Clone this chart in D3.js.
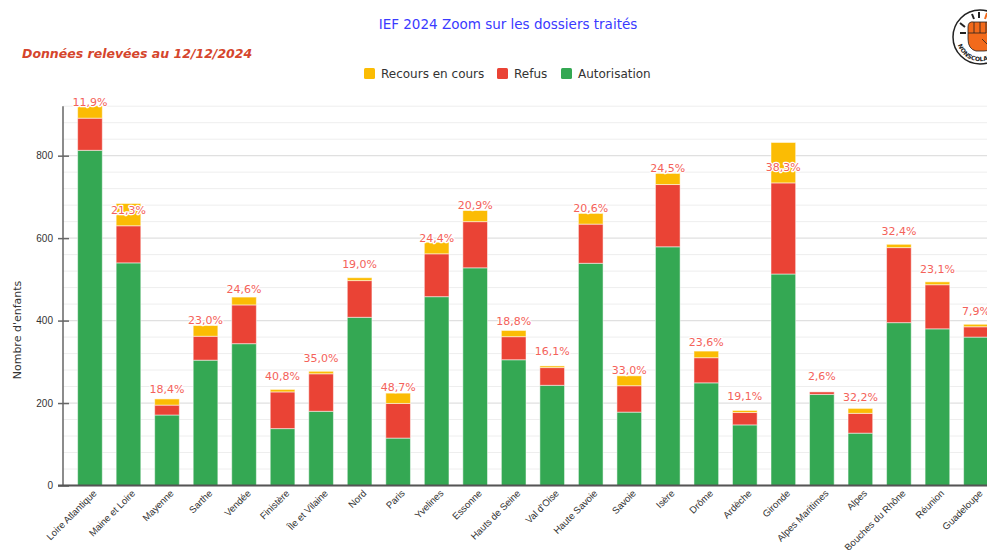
<!DOCTYPE html>
<html>
<head>
<meta charset="utf-8">
<script src="https://cdn.jsdelivr.net/npm/d3@7"></script>
<style>
  body { margin: 0; overflow: hidden; background: #fff; }
  svg { font-family: "DejaVu Sans", Verdana, sans-serif; display: block; }
</style>
</head>
<body>
<div id="chart"></div>
<script>
const WIDTH = 1000;
const HEIGHT = 550;
const COLORS = { recours: "#FBBC04", refus: "#EA4335", autorisation: "#34A853" };

const departements = ["Loire Atlantique", "Maine et Loire", "Mayenne", "Sarthe", "Vendée", "Finistère",
  "Île et Vilaine", "Nord", "Paris", "Yvelines", "Essonne", "Hauts de Seine", "Val d'Oise",
  "Haute Savoie", "Savoie", "Isère", "Drôme", "Ardèche", "Gironde", "Alpes Maritimes", "Alpes",
  "Bouches du Rhône", "Réunion", "Guadeloupe"];
const autorisation = [813, 540, 171, 304, 344, 138, 180, 408, 115, 458, 528, 305, 243, 539, 178, 579, 249, 147, 513, 221, 127, 395, 380, 360];
const refus =        [78,  90,  24,  58,  94,  89,  91,  89,  84, 104, 112,  56,  43,  95,  64, 151,  61,  30, 221,   6,  48, 182, 107,  25];
const recours =      [30,  54,  15,  26,  19,   6,   6,   7,  25,  28,  27,  15,   4,  26,  24,  27,  16,   5,  98,   0,  12,   8,   7,   6];
const pctLabels = ["11,9%", "21,3%", "18,4%", "23,0%", "24,6%", "40,8%", "35,0%", "19,0%", "48,7%", "24,4%",
  "20,9%", "18,8%", "16,1%", "20,6%", "33,0%", "24,5%", "23,6%", "19,1%", "38,3%", "2,6%", "32,2%",
  "32,4%", "23,1%", "7,9%"];
const yTicks = [0, 200, 400, 600, 800];

const svg = d3.select("#chart").append("svg").attr("width", WIDTH).attr("height", HEIGHT);

const x = d3.scaleBand().domain(departements).range([70.7, 995.2]).paddingInner(0.36).paddingOuter(0.18);
const y = d3.scaleLinear().domain([0, 920]).range([485.5, 106.2]);

// grid
svg.append("g").selectAll("line").data(d3.range(0, 921, 40)).join("line")
  .attr("x1", 63).attr("x2", WIDTH)
  .attr("y1", d => y(d)).attr("y2", d => y(d))
  .attr("stroke", d => d % 200 === 0 ? "#e0e0e0" : "#eeeeee")
  .attr("stroke-width", d => d % 200 === 0 ? 1.3 : 1);

// stacked bars
const rows = departements.map((d, i) => ({ dep: d, autorisation: autorisation[i], refus: refus[i], recours: recours[i] }));
const stack = d3.stack().keys(["autorisation", "refus", "recours"])(rows);
svg.append("g").selectAll("g").data(stack).join("g")
  .attr("fill", s => COLORS[s.key])
  .selectAll("rect").data(s => s).join("rect")
  .attr("x", d => x(d.data.dep))
  .attr("width", x.bandwidth())
  .attr("y", d => y(d[1]))
  .attr("height", d => Math.max(0, y(d[0]) - y(d[1])))
  .attr("stroke", "#fff").attr("stroke-opacity", 0.5).attr("stroke-width", 1);

// y axis
const yAxis = svg.append("g").attr("transform", "translate(63,0)")
  .call(d3.axisLeft(y).tickValues(yTicks).tickSizeInner(5).tickSizeOuter(0).tickPadding(5));
yAxis.select(".domain").attr("stroke", "#666").attr("stroke-width", 1.5).attr("d", `M0,${y(920)}V${y(0)}`);
yAxis.selectAll(".tick line").attr("x1", -5).attr("x2", 6).attr("stroke", "#666").attr("stroke-width", 1.5);
yAxis.selectAll(".tick text").attr("fill", "#333").style("font-size", "10px").attr("x", -10);

svg.append("text").attr("transform", "translate(21,330) rotate(-90)")
  .attr("text-anchor", "middle").attr("fill", "#333").style("font-size", "11px").text("Nombre d'enfants");

// x axis
const xAxis = svg.append("g").attr("transform", `translate(0,${y(0)})`)
  .call(d3.axisBottom(x).tickSize(0).tickPadding(0));
xAxis.select(".domain").attr("stroke", "#555").attr("stroke-width", 2).attr("d", `M58,0H${WIDTH}`);
xAxis.selectAll(".tick text")
  .attr("fill", "#333").style("font-size", "9.6px")
  .attr("text-anchor", "end")
  .attr("transform", "translate(5,6) rotate(-45)")
  .attr("dy", "0.35em");

// percentage labels
svg.append("g").selectAll("text").data(rows).join("text")
  .attr("x", d => x(d.dep) + x.bandwidth() / 2)
  .attr("y", d => y(d.autorisation + d.refus) - 16)
  .attr("dy", "0.35em")
  .attr("text-anchor", "middle")
  .style("font-size", "11px")
  .attr("fill", "#f4625a")
  .attr("stroke", "#fff").attr("stroke-width", 2.5).attr("stroke-linejoin", "round")
  .attr("paint-order", "stroke")
  .text((d, i) => pctLabels[i]);

// title
svg.append("text").attr("x", 508).attr("y", 29).attr("text-anchor", "middle")
  .attr("fill", "#3a3aff").style("font-size", "13.5px").text("IEF 2024 Zoom sur les dossiers traités");
svg.append("text").attr("x", 22).attr("y", 58)
  .attr("fill", "#d5452c").style("font-size", "12.5px").style("font-weight", "bold").style("font-style", "italic")
  .text("Données relevées au 12/12/2024");

// legend
const legendItems = [["Recours en cours", COLORS.recours], ["Refus", COLORS.refus], ["Autorisation", COLORS.autorisation]];
const legendX = [364, 497, 561];
const lg = svg.append("g").selectAll("g").data(legendItems).join("g")
  .attr("transform", (d, i) => `translate(${legendX[i]},68)`);
lg.append("rect").attr("width", 11).attr("height", 11).attr("rx", 1.5).attr("fill", d => d[1]);
lg.append("text").attr("x", 17).attr("y", 10).attr("fill", "#333").style("font-size", "12px").text(d => d[0]);

// logo
const logo = svg.append("g").attr("transform", "translate(980,37)");
logo.append("circle").attr("r", 27).attr("fill", "#fff").attr("stroke", "#222").attr("stroke-width", 1.5);
logo.append("path").attr("d", "M-12,-10 Q-12,-16 -6,-15 L10,-15 Q16,-15 16,-8 L16,6 Q14,14 4,14 L-4,14 Q-12,12 -12,2 Z")
  .attr("fill", "#f26a1b").attr("stroke", "#222").attr("stroke-width", 0.8);
logo.append("path").attr("d", "M-6,-15 V-4 M0,-15 V-4 M6,-15 V-4 M-12,-4 H6 M2,2 L8,8")
  .attr("stroke", "#222").attr("stroke-width", 0.8).attr("fill", "none");
logo.append("path").attr("d", "M-20,-14 L-15,-10 M-8,-23 L-6,-18 M-1,-25 L-1,-19 M-20,-4 L-14,-4")
  .attr("stroke", "#222").attr("stroke-width", 2).attr("fill", "none");
logo.append("path").attr("d", "M7,-24 L5,-18 M13,-21 L10,-16").attr("stroke", "#f26a1b").attr("stroke-width", 2);
logo.append("path").attr("id", "logoArc").attr("d", "M-22,8 A23,23 0 0,0 22,8").attr("fill", "none");
logo.append("text").style("font-size", "6px").style("font-weight", "bold").attr("fill", "#222")
  .append("textPath").attr("href", "#logoArc").text("NONSCOLARISATION");
</script>
</body>
</html>
